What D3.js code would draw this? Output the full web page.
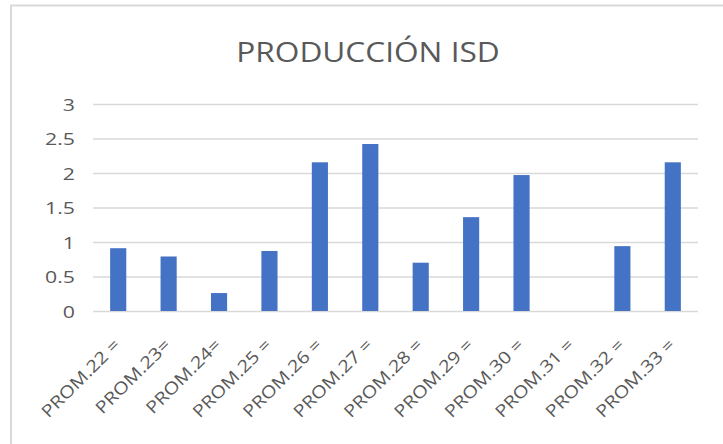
<!DOCTYPE html>
<html><head><meta charset="utf-8">
<script src="https://cdn.jsdelivr.net/npm/d3@7/dist/d3.min.js"></script>
<style>html,body{margin:0;padding:0;background:#fff;}svg{display:block;}</style>
</head><body>
<script>
const categories = ["PROM.22 =","PROM.23=","PROM.24=","PROM.25 =","PROM.26 =","PROM.27 =","PROM.28 =","PROM.29 =","PROM.30 =","PROM.31 =","PROM.32 =","PROM.33 ="];
const values = [0.91,0.79,0.26,0.87,2.155,2.42,0.70,1.36,1.97,0,0.94,2.155];
const yTicks = [0,0.5,1,1.5,2,2.5,3];
const title = "PRODUCCIÓN ISD";

const W=723,H=444;
const svg=d3.select("body").append("svg").attr("width",W).attr("height",H);
const font="'Open Sans', 'Liberation Sans', sans-serif";
// border (top & left visible)
svg.append("path").attr("d","M11,444 L11,5.5 L723,5.5").attr("fill","none").attr("stroke","#d9d9d9").attr("stroke-width",2);

const x=d3.scaleBand().domain(categories).range([93,698]).paddingInner(0.68).paddingOuter(0.34);
const y=d3.scaleLinear().domain([0,3]).range([311,104]);

svg.append("text").attr("transform","translate(368,62.3) scale(1.15,1)").attr("text-anchor","middle")
  .attr("font-family",font).attr("font-size",27.5).attr("fill","#595959").text(title);

const gy=svg.append("g").attr("transform","translate(93,0)")
  .call(d3.axisLeft(y).tickValues(yTicks).tickSize(-605).tickPadding(0).tickFormat(d3.format("")));
gy.select(".domain").remove();
gy.selectAll("line").attr("stroke","#d9d9d9").attr("stroke-width",1.5);
gy.selectAll("text").attr("font-family",font).attr("font-size",17).attr("fill","#595959")
  .attr("x",0).attr("dy","0.36em").attr("transform","translate(-18,0) scale(1.25,1)");

svg.selectAll("rect.bar").data(values).join("rect").attr("class","bar")
  .attr("x",(d,i)=>x(categories[i])).attr("width",x.bandwidth())
  .attr("y",d=>y(d)).attr("height",d=>y(0)-y(d)).attr("fill","#4472c4");

const gx=svg.append("g").attr("transform","translate(0,311)")
  .call(d3.axisBottom(x).tickSize(0).tickPadding(0));
gx.select(".domain").remove();
gx.selectAll("text").attr("font-family",font).attr("font-size",17).attr("fill","#595959")
  .attr("text-anchor","end").attr("dy",0).attr("y",0)
  .attr("transform","translate(3,35) rotate(-45) scale(1.18,1)");
</script>
</body></html>
